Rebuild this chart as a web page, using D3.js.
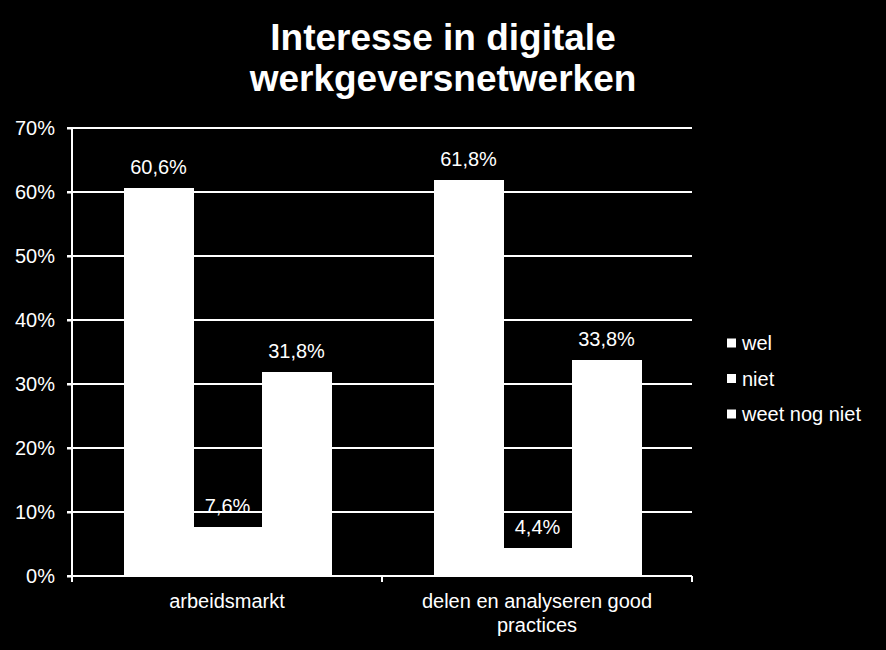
<!DOCTYPE html>
<html><head><meta charset="utf-8">
<script src="https://cdn.jsdelivr.net/npm/d3@7"></script>
<style>html,body{margin:0;padding:0;background:#000;}svg{display:block;font-family:Arial,"Liberation Sans",sans-serif;}</style>
</head><body>
<svg id="c" width="886" height="650"></svg>
<script>
const titleLines = ["Interesse in digitale", "werkgeversnetwerken"];
const categories = ["arbeidsmarkt", "delen en analyseren good practices"];
const categoryLines = [["arbeidsmarkt"], ["delen en analyseren good", "practices"]];
const seriesNames = ["wel", "niet", "weet nog niet"];
const wel = [60.6, 61.8];
const niet = [7.6, 4.4];
const weetNogNiet = [31.8, 33.8];
const yTicks = [0, 10, 20, 30, 40, 50, 60, 70];

(function () {
const seriesValues = [wel, niet, weetNogNiet];
const svg = d3.select("#c");
svg.append("rect").attr("width", 886).attr("height", 650).attr("fill", "#000");

const pL = 72, pR = 692, pT = 128, pB = 576;
const x = d3.scaleBand().domain(categories).range([pL, pR]);
const y = d3.scaleLinear().domain([0, 70]).range([pB, pT]);
const inner = d3.scaleBand().domain(seriesNames).range([0, 207]);
const groupOffset = (x.bandwidth() - 207) / 2;

// gridlines
svg.append("g").selectAll("line").data(yTicks.filter(t => t > 0)).join("line")
  .attr("x1", pL - 5).attr("x2", pR)
  .attr("y1", d => y(d)).attr("y2", d => y(d))
  .attr("stroke", "#fff").attr("stroke-width", 2);

// bars
const fmt = v => v.toFixed(1).replace(".", ",") + "%";
categories.forEach((c, ci) => {
  seriesNames.forEach((s, si) => {
    const v = seriesValues[si][ci];
    const bx = Math.round(x(c) + groupOffset + inner(s));
    svg.append("rect").attr("x", bx).attr("y", y(v))
      .attr("width", Math.ceil(inner.bandwidth()) + 1).attr("height", pB - y(v))
      .attr("fill", "#fff").attr("shape-rendering", "crispEdges");
    svg.append("text").attr("x", bx + inner.bandwidth() / 2).attr("y", y(v) - 14)
      .attr("text-anchor", "middle").attr("fill", "#fff").attr("font-size", 20)
      .text(fmt(v));
  });
});

// y axis
const yAxis = d3.axisLeft(y).tickValues(yTicks).tickFormat(d => d + "%").tickSize(5).tickPadding(12);
const ya = svg.append("g").attr("transform", `translate(${pL},0)`).call(yAxis);
ya.select(".domain").attr("stroke", "#fff").attr("stroke-width", 2).attr("d", `M0,${pT}V${pB}`);
ya.selectAll(".tick line").attr("stroke", "#fff").attr("stroke-width", 2);
ya.selectAll(".tick text").attr("fill", "#fff").attr("font-size", 20)
  .attr("font-family", "Arial, 'Liberation Sans', sans-serif");

// x axis
svg.append("line").attr("x1", pL - 5).attr("x2", pR).attr("y1", pB).attr("y2", pB)
  .attr("stroke", "#fff").attr("stroke-width", 2);
const bounds = [pL].concat(categories.map(c => x(c) + x.bandwidth()));
svg.append("g").selectAll("line").data(bounds).join("line")
  .attr("x1", d => d).attr("x2", d => d).attr("y1", pB).attr("y2", pB + 6)
  .attr("stroke", "#fff").attr("stroke-width", 2);
categories.forEach((c, ci) => {
  const cx = x(c) + x.bandwidth() / 2;
  const t = svg.append("text").attr("x", cx).attr("y", 608)
    .attr("text-anchor", "middle").attr("fill", "#fff").attr("font-size", 20);
  categoryLines[ci].forEach((l, li) => t.append("tspan").attr("x", cx)
    .attr("dy", li === 0 ? 0 : 24).text(l));
});

// title
const tt = svg.append("text").attr("x", 443).attr("y", 50).attr("text-anchor", "middle")
  .attr("fill", "#fff").attr("font-size", 37).attr("font-weight", "bold");
titleLines.forEach((l, i) => tt.append("tspan").attr("x", 443).attr("dy", i === 0 ? 0 : 41).text(l));

// legend
const lg = svg.append("g").selectAll("g").data(seriesNames).join("g")
  .attr("transform", (d, i) => `translate(727,${343 + i * 35.5})`);
lg.append("rect").attr("x", 0).attr("y", -4.5).attr("width", 9).attr("height", 9).attr("fill", "#fff");
lg.append("text").attr("x", 15).attr("y", 0).attr("dy", "0.35em").attr("fill", "#fff")
  .attr("font-size", 20).text(d => d);
})();
</script>
</body></html>
